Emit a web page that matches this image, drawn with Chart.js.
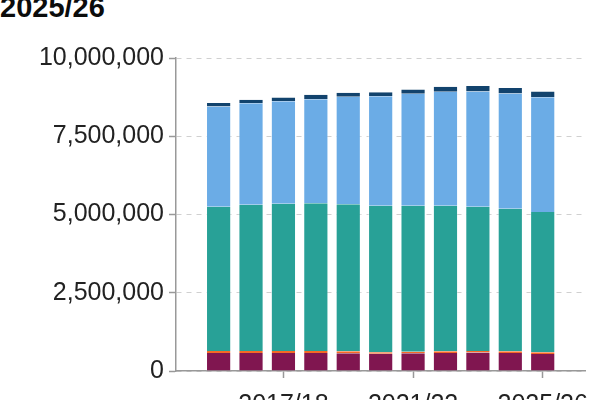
<!DOCTYPE html>
<html>
<head>
<meta charset="utf-8">
<script src="https://cdn.jsdelivr.net/npm/chart.js@4/dist/chart.umd.min.js"></script>
<style>
  html, body { margin: 0; padding: 0; overflow: hidden; background: #fff; width: 600px; height: 400px; }
  #title { position: absolute; left: 0; top: -7px; font: bold 29px/29px "Liberation Sans", Arial, sans-serif; color: #0b0c0c; margin: 0; white-space: nowrap; }
  #wrap { position: absolute; left: 0; top: 0; width: 600px; height: 432px; }
</style>
</head>
<body>
<div id="title">2025/26</div>
<div id="wrap"><canvas id="c"></canvas></div>
<script>
const categories = ['2015/16','2016/17','2017/18','2018/19','2019/20','2020/21','2021/22','2022/23','2023/24','2024/25','2025/26'];
const tickYears = ['2017/18','2021/22','2025/26'];
const yTicks = [0, 2500000, 5000000, 7500000, 10000000];

const independent = [577000, 577000, 577000, 577000, 566000, 555000, 566000, 577000, 588000, 577000, 545000];
const nursery     = [58000, 58000, 58000, 58000, 63000, 48000, 50000, 52000, 53000, 52000, 55000];
const primary     = [4610000, 4673000, 4705000, 4727000, 4700000, 4673000, 4660000, 4647000, 4603000, 4551000, 4483000];
const secondary   = [3207000, 3249000, 3281000, 3323000, 3432000, 3505000, 3582000, 3646000, 3688000, 3688000, 3666000];
const special     = [107000, 109000, 119000, 141000, 128000, 128000, 138000, 160000, 170000, 170000, 183000];

const toPoints = arr => arr.map((v, i) => ({ x: i, y: v }));
const mk = (label, arr, color) => ({
  label, data: toPoints(arr), backgroundColor: color,
  borderColor: 'rgba(255,255,255,0.35)', borderWidth: { left: 1, right: 1, top: 0, bottom: 0 }, borderSkipped: false,
  barPercentage: 0.777, categoryPercentage: 1.0
});

const font = { family: '"Liberation Sans", Arial, sans-serif', size: 25 };

new Chart(document.getElementById('c'), {
  type: 'bar',
  data: {
    datasets: [
      mk('Independent schools', independent, '#801650'),
      mk('State-funded nursery', nursery, '#F46A25'),
      mk('State-funded primary', primary, '#28A197'),
      mk('State-funded secondary', secondary, '#6BACE6'),
      mk('Special schools', special, '#12436D')
    ]
  },
  options: {
    responsive: true,
    maintainAspectRatio: false,
    animation: false,
    layout: { padding: { left: 0, top: 58, right: 1, bottom: 0 } },
    plugins: { legend: { display: false }, tooltip: { enabled: false }, title: { display: false } },
    scales: {
      x: {
        type: 'linear',
        stacked: true,
        offset: false,
        min: -1.315,
        max: 11.33,
        afterBuildTicks: axis => { axis.ticks = tickYears.map(t => ({ value: categories.indexOf(t) })); },
        ticks: {
          callback: v => categories[v] ?? '',
          font, color: '#222', padding: 12, maxRotation: 0, autoSkip: false
        },
        grid: { offset: false, drawOnChartArea: false, tickLength: 7, tickColor: '#999', tickWidth: 1.5 },
        border: { color: '#999', width: 1.5 }
      },
      y: {
        stacked: true,
        min: 0,
        max: 10000000,
        afterFit: s => { s.width = 176; },
        afterBuildTicks: axis => { axis.ticks = yTicks.map(v => ({ value: v })); },
        ticks: {
          callback: v => Number(v).toLocaleString('en-GB'),
          font, color: '#222', padding: 5
        },
        grid: { color: '#d0d0d0', lineWidth: 1, tickLength: 7, tickColor: '#999', tickWidth: 1.5, tickBorderDash: [] },
        border: { color: '#999', width: 1.5, dash: [5, 5] }
      }
    }
  }
});
</script>
</body>
</html>
